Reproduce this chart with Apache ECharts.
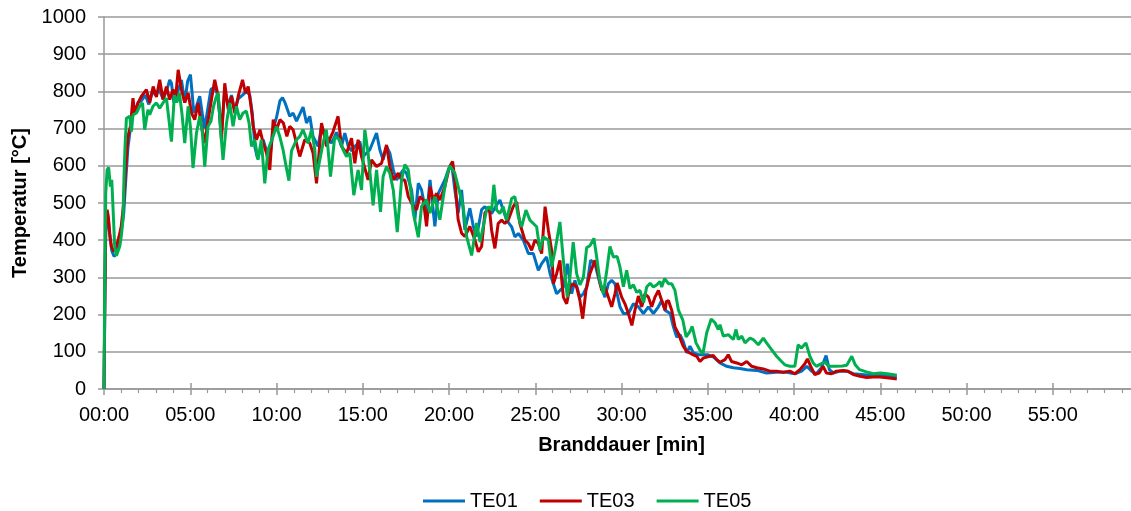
<!DOCTYPE html>
<html>
<head>
<meta charset="utf-8">
<script src="https://cdn.jsdelivr.net/npm/echarts@6/dist/echarts.min.js"></script>
<style>
html,body{margin:0;padding:0;background:#fff;}
#chart{width:1131px;height:511px;}
</style>
</head>
<body>
<div id="chart"></div>
<script>
// Time in minutes, temperature in °C
const te01Time = [0,0.05,0.1,0.17,0.25,0.35,0.45,0.58,0.72,0.87,1.0,1.14,1.26,1.39,1.53,1.68,1.8,1.97,2.17,2.4,2.6,2.8,3.0,3.2,3.42,3.62,3.81,3.91,4.05,4.2,4.35,4.49,4.68,4.85,5.01,5.1,5.2,5.36,5.55,5.7,5.84,6.04,6.2,6.42,6.6,6.81,7.0,7.2,7.39,7.58,7.78,8.03,8.26,8.45,8.6,8.75,8.9,9.04,9.23,9.42,9.61,9.81,10.0,10.2,10.35,10.5,10.77,10.96,11.16,11.54,11.74,11.93,12.12,12.41,12.61,12.9,13.19,13.48,13.77,13.96,14.16,14.35,14.54,14.83,15.02,15.41,15.8,15.99,16.18,16.38,16.57,16.77,16.96,17.35,17.54,17.83,18.02,18.22,18.41,18.7,18.9,19.18,19.38,19.57,19.76,19.96,20.15,20.34,20.53,20.73,20.92,21.21,21.41,21.6,21.89,22.08,22.47,22.7,22.95,23.34,23.63,23.82,24.02,24.31,24.6,24.89,25.18,25.37,25.66,25.86,26.05,26.24,26.63,26.86,27.11,27.3,27.59,27.79,27.98,28.21,28.46,28.75,29.04,29.24,29.43,29.62,29.91,30.11,30.4,30.69,30.98,31.27,31.56,31.85,32.14,32.33,32.53,32.82,33.01,33.2,33.39,33.58,33.78,33.97,34.17,34.46,34.74,35.03,35.33,35.71,36.1,36.48,36.87,37.26,37.84,38.41,38.99,39.57,40.05,40.44,40.74,41.02,41.3,41.59,41.86,42.05,42.28,42.67,43.06,43.44,43.93,44.41,44.99,45.57,45.96];
const te01Temp = [0,220,420,470,455,405,372,357,362,392,425,470,560,650,700,755,740,770,775,790,765,800,790,805,780,800,831,822,770,790,810,831,770,828,845,800,742,760,787,740,700,760,806,810,790,690,805,760,790,750,780,790,800,790,740,650,620,640,670,640,620,700,730,775,783,769,733,742,720,758,715,733,679,652,705,679,661,690,652,688,652,640,652,665,625,643,688,643,616,652,634,589,562,589,580,535,455,553,535,464,562,437,526,544,562,589,607,535,473,535,428,486,437,410,482,490,472,490,508,454,436,409,418,400,364,364,319,337,355,310,283,256,274,337,256,292,247,256,274,346,337,283,247,283,292,283,221,203,203,229,221,203,221,203,221,238,212,203,167,140,146,128,97,115,97,92,92,92,86,70,61,57,55,52,50,43,45,45,41,48,61,48,41,57,90,52,43,48,48,41,39,37,37,34,32];

const te03Time = [0,0.05,0.1,0.18,0.25,0.33,0.43,0.56,0.72,0.87,1.0,1.14,1.26,1.39,1.53,1.68,1.78,1.97,2.17,2.46,2.65,2.85,3.04,3.23,3.42,3.62,3.81,4.0,4.16,4.3,4.49,4.68,4.88,5.07,5.26,5.46,5.65,5.84,6.04,6.23,6.42,6.62,6.81,7.0,7.2,7.39,7.58,7.78,8.03,8.2,8.36,8.55,8.65,8.84,9.04,9.23,9.42,9.61,9.81,10.0,10.2,10.4,10.6,10.77,10.96,11.35,11.64,11.93,12.12,12.32,12.61,12.9,13.28,13.57,13.77,14.06,14.35,14.54,14.73,14.93,15.31,15.51,15.8,16.09,16.38,16.57,16.77,17.06,17.25,17.44,17.64,17.93,18.12,18.31,18.51,18.7,18.9,19.09,19.28,19.47,19.76,20.01,20.21,20.34,20.53,20.73,20.92,21.21,21.5,21.7,21.89,22.08,22.33,22.47,22.66,22.85,23.05,23.24,23.43,23.72,23.92,24.11,24.4,24.6,24.79,24.98,25.18,25.37,25.57,25.76,25.95,26.05,26.24,26.43,26.63,26.82,27.01,27.2,27.4,27.59,27.75,27.94,28.17,28.46,28.65,28.85,29.04,29.24,29.43,29.62,29.75,30.01,30.2,30.4,30.6,30.78,30.98,31.17,31.36,31.56,31.75,31.94,32.14,32.33,32.53,32.6,32.72,32.91,33.1,33.3,33.45,33.58,33.78,34.07,34.36,34.55,34.74,34.94,35.13,35.32,35.52,35.71,36.0,36.19,36.38,36.68,36.97,37.26,37.55,37.84,38.22,38.6,38.99,39.37,39.76,40.05,40.34,40.63,40.78,40.97,41.2,41.46,41.69,41.88,42.17,42.46,42.85,43.14,43.44,43.83,44.21,44.6,44.99,45.38,45.77,45.96];
const te03Temp = [0,250,437,482,464,419,383,370,383,410,437,500,598,679,706,782,742,769,787,805,770,813,785,831,778,813,778,805,787,858,805,770,796,742,724,769,706,661,724,778,831,787,670,822,751,787,742,787,831,796,813,751,706,670,697,661,634,589,724,697,724,715,679,706,697,625,670,661,634,553,715,652,692,733,652,634,674,607,670,625,562,616,598,607,656,598,562,580,562,562,517,491,482,517,508,437,544,508,526,508,544,594,612,562,455,419,410,437,401,369,383,473,490,427,378,445,454,445,454,490,503,445,400,391,373,400,391,364,490,427,373,283,310,346,247,229,274,283,274,238,189,265,310,346,310,265,274,247,221,256,285,247,229,203,171,212,250,221,256,247,221,247,265,238,212,235,238,212,167,149,130,115,101,94,88,74,83,86,88,90,79,72,79,92,74,70,65,74,61,57,54,48,48,45,48,41,52,68,81,61,39,43,61,43,41,48,50,48,39,34,31,32,32,30,28,27];

const te05Time = [0,0.04,0.1,0.18,0.27,0.37,0.45,0.52,0.62,0.72,0.81,0.91,1.0,1.1,1.16,1.22,1.3,1.39,1.49,1.59,1.68,1.88,2.07,2.23,2.36,2.55,2.65,2.84,3.04,3.23,3.42,3.62,3.72,3.91,4.08,4.22,4.37,4.52,4.68,4.88,5.02,5.16,5.36,5.55,5.7,5.84,6.03,6.2,6.35,6.52,6.62,6.75,6.9,7.1,7.29,7.48,7.68,7.87,8.06,8.25,8.41,8.55,8.74,8.93,9.12,9.32,9.51,9.8,10.0,10.19,10.38,10.55,10.72,10.87,11.16,11.35,11.54,11.83,12.03,12.22,12.32,12.51,12.7,12.89,13.13,13.38,13.67,13.86,14.06,14.25,14.48,14.73,14.93,15.12,15.31,15.6,15.8,16.03,16.18,16.38,16.57,16.77,17.0,17.25,17.44,17.64,17.93,18.22,18.41,18.7,18.9,19.18,19.47,19.67,19.86,20.05,20.34,20.63,20.82,21.02,21.31,21.6,21.8,21.98,22.18,22.28,22.47,22.6,22.76,22.95,23.14,23.34,23.63,23.82,24.02,24.21,24.46,24.69,24.89,25.08,25.27,25.47,25.76,25.95,26.15,26.43,26.63,26.86,27.01,27.2,27.4,27.59,27.79,27.98,28.17,28.4,28.56,28.75,28.95,29.15,29.33,29.53,29.75,29.91,30.11,30.3,30.49,30.69,30.88,31.07,31.28,31.46,31.66,31.85,32.05,32.23,32.33,32.5,32.72,32.91,33.1,33.3,33.55,33.75,33.97,34.1,34.32,34.55,34.72,34.94,35.2,35.42,35.61,35.71,35.9,36.19,36.29,36.48,36.64,36.77,36.97,37.16,37.45,37.64,37.93,38.22,38.41,38.7,38.99,39.28,39.47,39.76,40.05,40.24,40.43,40.69,40.92,41.11,41.3,41.59,41.8,42.0,42.4,42.8,43.06,43.35,43.55,43.8,44.2,44.6,45.0,45.4,45.7,45.96];
const te05Temp = [0,257,526,589,596,544,562,490,383,358,360,383,410,455,571,652,728,724,733,692,737,742,760,769,697,751,737,760,769,755,769,782,742,665,790,770,796,740,661,760,700,594,688,733,690,598,706,720,760,787,796,700,616,715,769,706,760,724,742,747,715,652,670,616,670,553,643,679,706,679,643,600,560,640,670,679,697,661,697,643,571,616,661,697,571,679,670,643,625,634,521,589,535,697,634,494,589,476,571,598,580,535,422,562,603,589,473,408,491,509,473,517,455,517,571,600,580,526,491,410,359,446,395,436,482,490,481,549,481,472,490,454,512,517,463,436,481,454,445,436,373,409,400,328,373,449,346,247,301,395,310,280,300,380,385,405,355,290,257,320,383,355,356,328,275,319,270,280,260,265,232,274,284,274,280,289,274,297,283,283,265,212,186,140,155,168,124,104,95,151,188,178,160,173,142,146,151,133,160,133,142,124,137,133,119,137,124,106,88,74,65,61,61,119,110,124,88,70,61,68,72,61,61,62,64,88,65,52,46,41,43,41,39,37];

const seriesNames = ['TE01','TE03','TE05'];
const seriesColors = ['#0070C0','#C00000','#00B050'];
const yTicks = {min:0, max:1000, interval:100};
const xTicks = {min:0, max:60, interval:5};

function zip(t, v){ return t.map((x,i)=>[x, v[i]]); }
const allData = [zip(te01Time,te01Temp), zip(te03Time,te03Temp), zip(te05Time,te05Temp)];

const FONT = '"Liberation Sans", Arial, sans-serif';
const GRID_COLOR = '#989898';

function fmtTime(v){
  if (Math.abs(v % 5) > 1e-6) return '';
  const m = Math.round(v);
  return (m < 10 ? '0' : '') + m + ':00';
}

const gridBox = {left:104, top:17, width:1035, height:372, containLabel:false, outerBoundsMode:'none'};

const chart = echarts.init(document.getElementById('chart'), null, {renderer:'canvas'});
chart.setOption({
  animation:false,
  backgroundColor:'#fff',
  textStyle:{fontFamily:FONT},
  grid:[ Object.assign({}, gridBox), Object.assign({}, gridBox) ],
  legend:{
    data:seriesNames,
    left:423, top:491, padding:0,
    icon:'rect',
    itemWidth:42, itemHeight:3, itemGap:22,
    textStyle:{fontSize:20, color:'#000', fontFamily:FONT}
  },
  xAxis:[{
    type:'value', gridIndex:0,
    min:xTicks.min, max:xTicks.max, interval:xTicks.interval,
    name:'Branddauer [min]', nameLocation:'middle', nameGap:46,
    nameTextStyle:{fontSize:20, fontWeight:'bold', color:'#000', fontFamily:FONT},
    axisLine:{show:true, onZero:false, lineStyle:{color:GRID_COLOR, width:1.5}},
    axisTick:{show:true, inside:false, length:6, lineStyle:{color:GRID_COLOR, width:1.5}},
    minorTick:{show:true, splitNumber:5, length:4, lineStyle:{color:GRID_COLOR, width:1.2}},
    axisLabel:{fontSize:20, color:'#000', margin:16, formatter:fmtTime, fontFamily:FONT, showMaxLabel:false},
    splitLine:{show:false}
  },{
    type:'value', gridIndex:1,
    min:xTicks.min, max:xTicks.max, interval:xTicks.interval,
    axisLine:{show:false},
    axisTick:{show:true, inside:true, length:6, lineStyle:{color:GRID_COLOR, width:1.5}},
    axisLabel:{show:false},
    splitLine:{show:false}
  }],
  yAxis:[{
    type:'value', gridIndex:0,
    min:yTicks.min, max:yTicks.max, interval:yTicks.interval,
    name:'Temperatur [°C]', nameLocation:'middle', nameGap:65, nameRotate:90,
    nameTextStyle:{fontSize:20, fontWeight:'bold', color:'#000', fontFamily:FONT},
    axisLine:{show:true, lineStyle:{color:GRID_COLOR, width:1.5}},
    axisTick:{show:true, inside:false, length:6, lineStyle:{color:GRID_COLOR, width:1.5}},
    axisLabel:{fontSize:20, color:'#000', margin:18, fontFamily:FONT, formatter:v=>String(v)},
    splitLine:{show:true, lineStyle:{color:GRID_COLOR, width:1.5}}
  },{
    type:'value', gridIndex:1, show:false, min:0, max:1000
  }],
  series: seriesNames.map((n,i)=>({
    name:n, type:'line', xAxisIndex:0, yAxisIndex:0,
    data:allData[i], showSymbol:false, symbol:'none',
    lineStyle:{width:3, color:seriesColors[i]},
    itemStyle:{color:seriesColors[i]},
    z: 2+i
  }))
});
</script>
</body>
</html>
